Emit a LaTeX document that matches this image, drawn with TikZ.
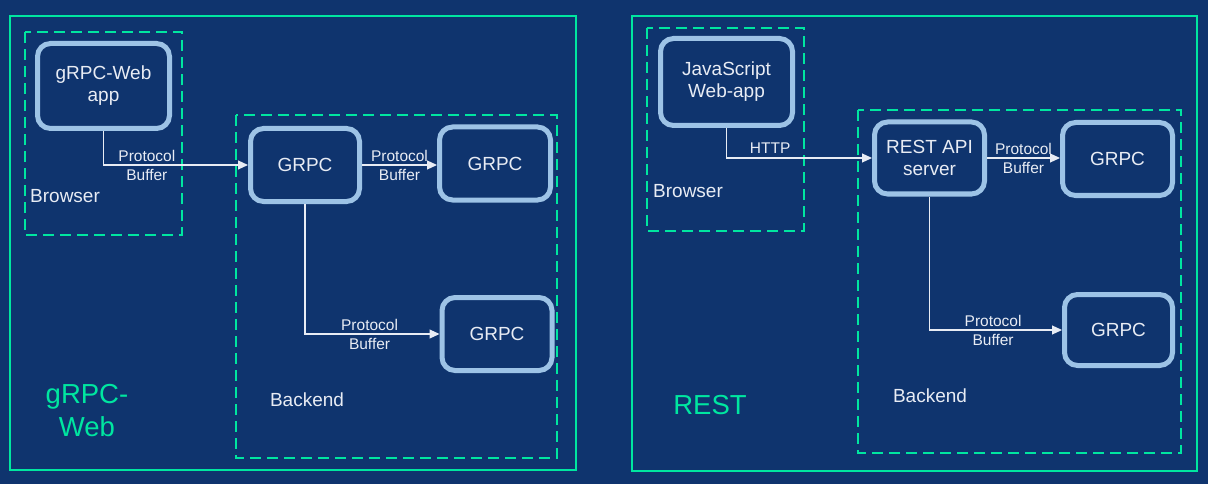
\documentclass[tikz,border=0pt]{standalone}
\usepackage{fontspec}
\setmainfont{Liberation Sans}
\usepackage{tikz}
\usetikzlibrary{arrows.meta,positioning}
\definecolor{navy}{RGB}{15,52,110}
\definecolor{mint}{RGB}{0,230,160}
\definecolor{pale}{RGB}{157,195,230}
\definecolor{ink}{RGB}{232,236,244}
\tikzset{%
svc/.style={draw=pale, line width=5pt, rounded corners=13pt, fill=navy, text=ink, font=\fontsize{19}{22}\selectfont, align=center, inner sep=0pt},
zone/.style={draw=mint, line width=2.8pt, dash pattern=on 11pt off 6pt},
outline/.style={draw=mint, line width=1.4pt},
pt/.style={draw=ink, line width=1.1pt, -{Triangle[length=10pt,width=9pt]}},
lbl/.style={text=ink, font=\fontsize{15.5}{19}\selectfont, align=center, inner sep=0pt},
caption/.style={text=ink, font=\fontsize{19}{22}\selectfont, inner sep=0pt},
heading/.style={text=mint, font=\fontsize{27.5}{33}\selectfont, align=center, inner sep=0pt}
}
\begin{document}
\begin{tikzpicture}[x=1pt, y=-1pt]
		\fill[navy] (0,0) rectangle (1208,484);
		\useasboundingbox (0,0) rectangle (1208,484);

		\draw[outline] (10,16) rectangle (576,470);
		\draw[outline] (632,16) rectangle (1197,471);
		\draw[zone] (25,32) rectangle (182,235);
		\draw[zone] (236,115) rectangle (557,458);
		\draw[zone] (647,28) rectangle (804,231);
		\draw[zone] (858,110) rectangle (1181,453);

		\node[svc, minimum width=132pt, minimum height=85pt] (webapp) at (103.5,86) {gRPC-Web\\app};
		\node[svc, minimum width=109pt, minimum height=73pt] (gw) at (305,165) {GRPC};
		\node[svc, minimum width=111pt, minimum height=73pt] (svcone) at (495,163.5) {GRPC};
		\node[svc, minimum width=110pt, minimum height=73pt] (svctwo) at (497,334) {GRPC};

		\node[svc, minimum width=132pt, minimum height=87pt] (jsapp) at (726.5,82) {JavaScript\\Web-app};
		\node[svc, minimum width=110pt, minimum height=72pt] (rest) at (929.5,158) {REST API\\server};
		\node[svc, minimum width=110pt, minimum height=73pt] (svcthree) at (1117.5,159) {GRPC};
		\node[svc, minimum width=108pt, minimum height=71pt] (svcfour) at (1118.5,330) {GRPC};

		\node[caption, anchor=west] (browserL) at (30,196) {Browser};
		\node[caption] (backendL) at (307,400) {Backend};
		\node[heading] (headL) at (87,411) {gRPC-\\Web};
		\node[caption, anchor=west] (browserR) at (653,191) {Browser};
		\node[caption] (backendR) at (930,396) {Backend};
		\node[heading] (headR) at (710,405) {REST};

		\draw[pt] (webapp.south) |- node[lbl, pos=0.65] {Protocol\\Buffer} (gw.west);
		\draw[pt] (gw.east) -- node[lbl] {Protocol\\Buffer} (gw.east -| svcone.west);
		\draw[pt] (gw.south) |- node[lbl, pos=0.74] {Protocol\\Buffer} (svctwo.west);

		\draw[pt] (jsapp.south) |- node[lbl, pos=0.65, above=4pt] {HTTP} (rest.west);
		\draw[pt] (rest.east) -- node[lbl] {Protocol\\Buffer} (rest.east -| svcthree.west);
		\draw[pt] (rest.south) |- node[lbl, pos=0.74] {Protocol\\Buffer} (svcfour.west);
\end{tikzpicture}
\end{document}
